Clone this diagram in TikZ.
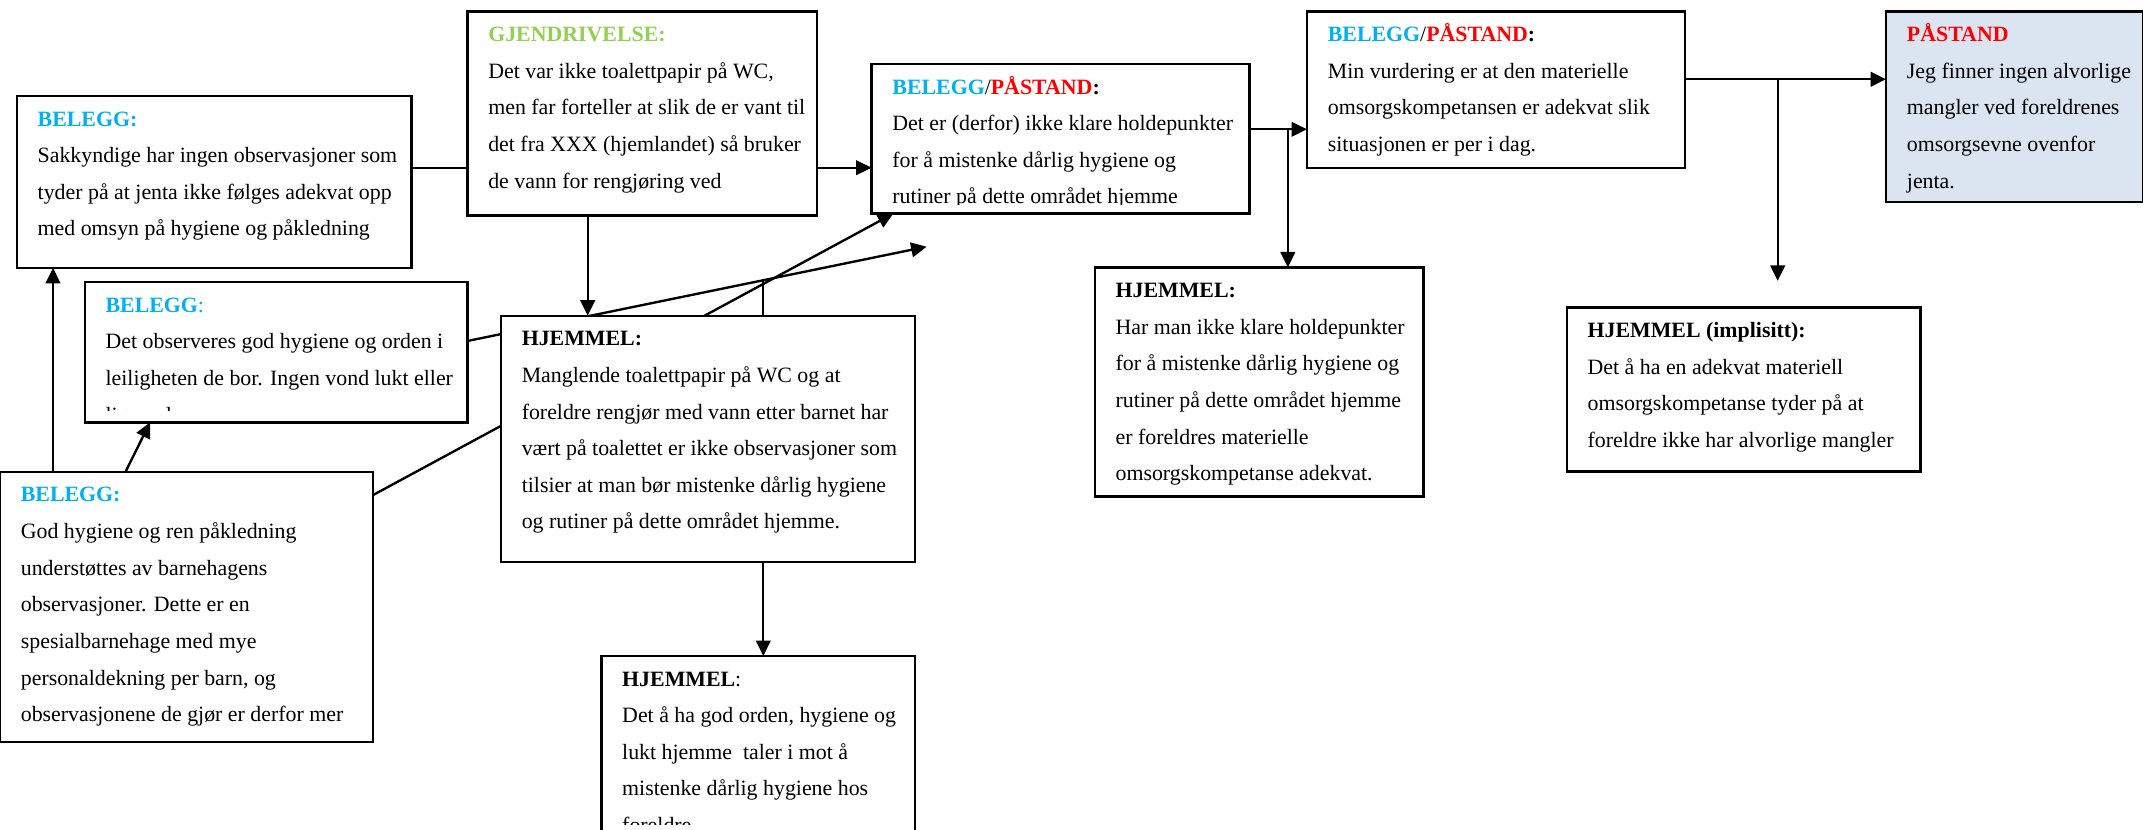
\documentclass[tikz,border=0pt]{standalone}
\usepackage{fontspec}
\setmainfont{Liberation Serif}
\usetikzlibrary{arrows.meta,calc}
\definecolor{belegg}{HTML}{00B0F0}
\definecolor{pastand}{HTML}{FF0000}
\definecolor{gjen}{HTML}{92D050}
\definecolor{pfill}{HTML}{DBE5F1}
\pgfdeclarelayer{bg}
\pgfsetlayers{bg,main}
\def\tbclip{6.5}
% #1 name, #2 extra style, #3 x1, #4 y1, #5 x2, #6 y2, #7 list of lines
\newcommand\tbox[7]{%
  \node[textbox,#2,minimum width={(#5-#3)*0.75pt},minimum height={(#6-#4)*0.75pt}] (#1) at (#3,#4) {};
  \begin{scope}
    \clip (#3,#4) rectangle (#5,#6-\tbclip);
    \foreach \myline [count=\i from 0] in {#7} {
      \node[anchor=base west,inner sep=0pt] at (#3+15,#4+22+\i*26.8) {\myline};
    }
  \end{scope}
}
\begin{document}
\begin{tikzpicture}[x=0.75pt,y=-0.75pt,
  font=\fontsize{12pt}{14pt}\selectfont,
  textbox/.style={draw,line width=1.3pt,fill=white,inner sep=0pt,outer sep=0pt,anchor=north west},
  conn/.style={line width=1.3pt},
  arr/.style={conn,-{Triangle[length=8.5pt,width=8pt]}}]
\useasboundingbox (0,0) rectangle (1568,607);

\tbox{A}{}{12.3}{70.2}{301}{196}{%
{\textcolor{belegg}{\textbf{BELEGG:}}},%
Sakkyndige har ingen observasjoner som,%
tyder på at jenta ikke følges adekvat opp,%
med omsyn på hygiene og påkledning}

\tbox{GJ}{}{342}{8.5}{597.6}{157.8}{%
{\textcolor{gjen}{\textbf{GJENDRIVELSE:}}},%
{Det var ikke toalettpapir på WC,},%
men far forteller at slik de er vant til,%
det fra XXX (hjemlandet) så bruker,%
de vann for rengjøring ved}

\tbox{BP1}{}{637.7}{46.8}{914.3}{156.3}{%
{\textcolor{belegg}{\textbf{BELEGG}}/\textcolor{pastand}{\textbf{PÅSTAND}}\textbf{:}},%
Det er (derfor) ikke klare holdepunkter,%
for å mistenke dårlig hygiene og,%
rutiner på dette området hjemme}

\tbox{BP2}{}{956.3}{8.5}{1233}{122.7}{%
{\textcolor{belegg}{\textbf{BELEGG}}/\textcolor{pastand}{\textbf{PÅSTAND}}\textbf{:}},%
Min vurdering er at den materielle,%
omsorgskompetansen er adekvat slik,%
situasjonen er per i dag.}

\tbox{P}{fill=pfill}{1380}{8.5}{1568}{147.6}{%
{\textcolor{pastand}{\textbf{PÅSTAND}}},%
Jeg finner ingen alvorlige,%
mangler ved foreldrenes,%
omsorgsevne ovenfor,%
jenta.}

\def\tbclip{9}
\tbox{B}{}{62}{206.5}{342}{309}{%
{\textcolor{belegg}{\textbf{BELEGG}:}},%
Det observeres god hygiene og orden i,%
leiligheten de bor. Ingen vond lukt eller,%
lignende.}
\def\tbclip{6.5}

\tbox{C}{}{0}{345.3}{273}{542.7}{%
{\textcolor{belegg}{\textbf{BELEGG:}}},%
God hygiene og ren påkledning,%
understøttes av barnehagens,%
observasjoner. Dette er en,%
spesialbarnehage med mye,%
{personaldekning per barn, og},%
observasjonene de gjør er derfor mer}

\tbox{HJ1}{}{366.5}{231}{669.6}{411}{%
{\textbf{HJEMMEL:}},%
Manglende toalettpapir på WC og at,%
foreldre rengjør med vann etter barnet har,%
vært på toalettet er ikke observasjoner som,%
tilsier at man bør mistenke dårlig hygiene,%
og rutiner på dette området hjemme.}

\def\tbclip{37}
\tbox{HJ4}{}{440}{480}{669.6}{640}{%
{\textbf{HJEMMEL}:},%
{Det å ha god orden, hygiene og},%
lukt hjemme\ \ taler i mot å,%
mistenke dårlig hygiene hos,%
foreldre.}
\def\tbclip{6.5}

\tbox{HJ2}{}{801}{195.7}{1041.5}{363.4}{%
{\textbf{HJEMMEL:}},%
Har man ikke klare holdepunkter,%
for å mistenke dårlig hygiene og,%
rutiner på dette området hjemme,%
er foreldres materielle,%
omsorgskompetanse adekvat.}

\tbox{HJ3}{}{1146.4}{225}{1405.3}{345}{%
{\textbf{HJEMMEL (implisitt):}},%
Det å ha en adekvat materiell,%
omsorgskompetanse tyder på at,%
foreldre ikke har alvorlige mangler}

\begin{pgfonlayer}{bg}
\coordinate (a1) at (0,122.7);
\draw[conn] (A.east |- a1) -- (GJ.west |- a1);
\draw[arr] (GJ.east |- a1) -- (BP1.west |- a1);
\coordinate (j2) at (942.3,94.6);
\draw[arr] (BP1.east |- j2) -- (BP2.west |- j2);
\draw[arr] (j2) -- (j2 |- HJ2.north);
\coordinate (j3) at (1300.7,58);
\coordinate (t3) at (1300.7,205.5);
\draw[arr] (BP2.east |- j3) -- (P.west |- j3);
\draw[arr] (j3) -- (t3);
\coordinate (g1) at (430,0);
\draw[arr] (GJ.south -| g1) -- (HJ1.north -| g1);
\coordinate (b1) at (0,249.5);
\coordinate (t1) at (678,180.5);
\draw[arr] (B.east |- b1) -- (t1);
\coordinate (c1) at (0,362.2);
\coordinate (p1) at (653.6,0);
\draw[arr] (C.east |- c1) -- (BP1.south -| p1);
\coordinate (j1) at (558.5,205);
\draw[arr] (j1) -- (j1 |- HJ4.north);
\coordinate (ca) at (38.8,352.4);
\draw[arr] (ca) -- (A.south -| ca);
\coordinate (cb) at (88.3,352.4);
\coordinate (bb) at (109.8,0);
\draw[arr] (cb) -- (B.south -| bb);
\end{pgfonlayer}
\end{tikzpicture}
\end{document}
